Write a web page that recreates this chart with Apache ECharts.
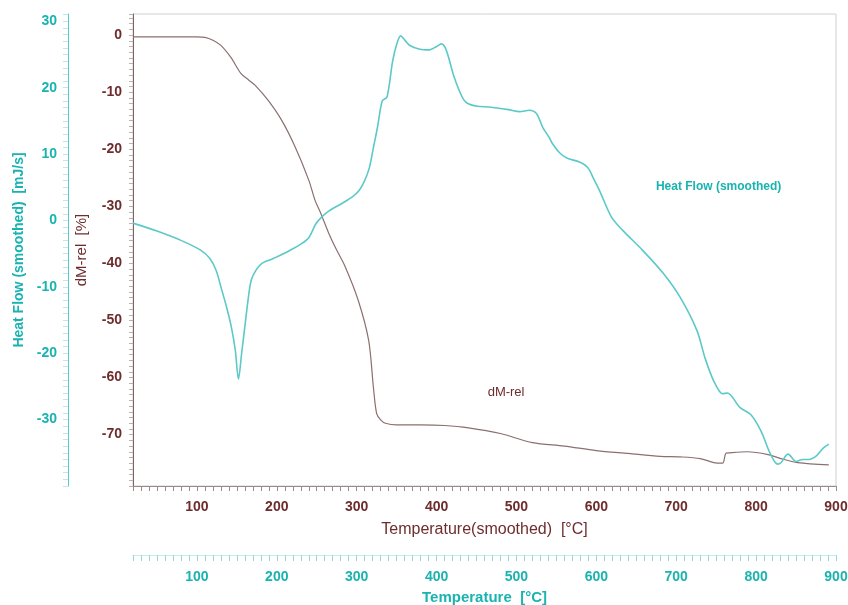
<!DOCTYPE html>
<html>
<head>
<meta charset="utf-8">
<script src="https://cdn.jsdelivr.net/npm/echarts@6/dist/echarts.min.js"></script>
<style>html,body{margin:0;padding:0;background:#fff}#c{width:848px;height:605px}</style>
</head>
<body>
<div id="c"></div>
<script>
// Temperature (smoothed) [°C] vs dM-rel [%]
const dmTemp = [20, 60, 100, 110, 120, 130, 143, 155, 165, 173, 189, 206, 223, 240, 248, 255, 265, 274, 286, 302, 315, 321, 325, 330, 336, 350, 380, 410, 440, 480, 520, 560, 600, 640, 680, 705, 730, 747, 758, 762, 766, 789, 815, 831, 852, 891];
const dmVals = [-0.3, -0.3, -0.3, -0.4, -0.9, -1.8, -4, -6.7, -7.9, -8.8, -11.4, -14.9, -19.6, -25.4, -29, -31.2, -34.7, -37.4, -40.7, -46.5, -53.5, -61.8, -66.3, -67.4, -68, -68.3, -68.3, -68.4, -68.8, -69.8, -71.4, -72.0, -72.8, -73.3, -73.8, -73.9, -74.2, -74.9, -75, -73.3, -73.2, -73, -73.5, -74.2, -74.9, -75.3];
// Temperature [°C] vs Heat Flow (smoothed) [mJ/s]
const hfTemp = [20, 50, 80, 105, 116, 124, 130, 137, 143, 148, 152, 156, 160, 164, 168, 175, 181, 190, 198, 215, 231, 240, 249, 256, 265, 282, 295, 303, 310, 316, 321, 326, 332, 338, 345, 350, 355, 360, 366, 379, 391, 400, 406, 412, 422, 432, 438, 451, 466, 490, 504, 516, 525, 533, 541, 545, 554, 563, 579, 589, 597, 604, 619, 633, 658, 684, 705, 726, 736, 747, 758, 764, 780, 793, 806, 818, 827, 831, 840, 850, 858, 866, 875, 884, 891];
const hfVals = [-0.4, -1.6, -3, -4.5, -5.7, -7.5, -10, -13, -16, -19.5, -23.9, -20, -16, -12, -9, -7.3, -6.5, -6, -5.6, -4.6, -3.5, -2.6, -0.5, 0.5, 1.4, 2.6, 3.6, 4.5, 6, 8, 11, 14, 18, 18.6, 24, 26.5, 27.8, 27.2, 26.4, 25.8, 25.7, 26.2, 26.6, 25.7, 21.6, 18.6, 17.7, 17.2, 17.1, 16.7, 16.4, 16.6, 16.1, 14, 12.5, 11.6, 10.2, 9.4, 8.8, 8, 6.2, 4.5, 0.5, -1.5, -4.5, -8, -11.6, -16.6, -20.7, -24.2, -26.1, -26, -28.2, -29.2, -31.7, -35.2, -36.7, -36.5, -35.2, -36.3, -36, -36, -35.5, -34.3, -33.7];
const tempTicks = [100, 200, 300, 400, 500, 600, 700, 800, 900];
const dmTicks = [0, -10, -20, -30, -40, -50, -60, -70];
const hfTicks = [30, 20, 10, 0, -10, -20, -30];

const BROWN = '#6e2c2c';
const BROWN_LINE = '#8c6f6f';
const CYAN = '#19b3b0';
const CYAN_LINE = '#5cc9c9';
const FONT = 'Liberation Sans';

const near = (v, arr) => arr.some(t => Math.abs(v - t) < 1e-6);

const chart = echarts.init(document.getElementById('c'));
chart.setOption({
  animation: false,
  backgroundColor: '#fff',
  textStyle: { fontFamily: FONT },
  grid: { left: 133, right: 12, top: 14, bottom: 119, show: true, borderColor: '#d0d0d0', borderWidth: 1, containLabel: false, outerBoundsMode: 'none' },
  xAxis: [
    {
      type: 'value', min: 20, max: 900, interval: 10, position: 'bottom',
      name: 'Temperature(smoothed)  [°C]', nameLocation: 'middle', nameGap: 36,
      nameTextStyle: { color: BROWN, fontSize: 16, fontFamily: FONT },
      axisLine: { show: true, onZero: false, lineStyle: { color: '#9a8a8a', width: 1 } },
      axisTick: { show: true, length: 5, lineStyle: { color: '#9a8a8a' } },
      axisLabel: { margin: 14, color: BROWN, fontSize: 14, fontWeight: 'bold', fontFamily: FONT,
        formatter: v => near(v, tempTicks) ? String(Math.round(v)) : '' },
      splitLine: { show: false }
    },
    {
      type: 'value', min: 20, max: 900, interval: 10, position: 'bottom', offset: 69,
      name: 'Temperature  [°C]', nameLocation: 'middle', nameGap: 35,
      nameTextStyle: { color: CYAN, fontSize: 15, fontWeight: 'bold', fontFamily: FONT },
      axisLine: { show: true, onZero: false, lineStyle: { color: '#c9ecec', width: 1 } },
      axisTick: { show: true, length: 6, lineStyle: { color: '#8fd9d9' } },
      axisLabel: { margin: 15, color: CYAN, fontSize: 14, fontWeight: 'bold', fontFamily: FONT,
        formatter: v => near(v, tempTicks) ? String(Math.round(v)) : '' },
      splitLine: { show: false }
    }
  ],
  yAxis: [
    {
      type: 'value', min: -79, max: 3.7, interval: 1, position: 'left',
      name: 'dM-rel  [%]', nameLocation: 'middle', nameGap: 44,
      nameTextStyle: { color: BROWN, fontSize: 15, fontFamily: FONT },
      axisLine: { show: true, onZero: false, lineStyle: { color: '#7a6464', width: 1 } },
      axisTick: { show: true, length: 4, lineStyle: { color: '#c0b0b0' } },
      axisLabel: { margin: 11, color: BROWN, fontSize: 14, fontWeight: 'bold', fontFamily: FONT,
        formatter: v => near(v, dmTicks) ? String(Math.round(v)) : '' },
      splitLine: { show: false }
    },
    {
      type: 'value', min: -40, max: 31.1, interval: 1, position: 'left', offset: 65,
      name: 'Heat Flow (smoothed)  [mJ/s]', nameLocation: 'middle', nameGap: 42,
      nameTextStyle: { color: CYAN, fontSize: 14, fontWeight: 'bold', fontFamily: FONT },
      axisLine: { show: true, onZero: false, lineStyle: { color: CYAN_LINE, width: 1 } },
      axisTick: { show: true, length: 5, lineStyle: { color: '#bfe8e8' } },
      axisLabel: { margin: 11, color: CYAN, fontSize: 14, fontWeight: 'bold', fontFamily: FONT,
        formatter: v => near(v, hfTicks) ? String(Math.round(v)) : '' },
      splitLine: { show: false }
    }
  ],
  series: [
    {
      name: 'dM-rel', type: 'line', xAxisIndex: 0, yAxisIndex: 0,
      data: dmTemp.map((t, i) => [t, dmVals[i]]),
      showSymbol: false, smooth: 0.3,
      lineStyle: { color: BROWN_LINE, width: 1.2 },
      markPoint: {
        symbol: 'circle', symbolSize: 0,
        label: { show: true, formatter: 'dM-rel', color: BROWN, fontSize: 13, fontFamily: FONT, position: 'inside' },
        data: [{ coord: [487, -62.6] }]
      }
    },
    {
      name: 'Heat Flow (smoothed)', type: 'line', xAxisIndex: 1, yAxisIndex: 1,
      data: hfTemp.map((t, i) => [t, hfVals[i]]),
      showSymbol: false, smooth: 0.3,
      lineStyle: { color: CYAN_LINE, width: 1.6 },
      markPoint: {
        symbol: 'circle', symbolSize: 0,
        label: { show: true, formatter: 'Heat Flow (smoothed)', color: CYAN, fontSize: 12, fontWeight: 'bold', fontFamily: FONT, position: 'inside' },
        data: [{ coord: [753, 5.1] }]
      }
    }
  ]
});
</script>
</body>
</html>
